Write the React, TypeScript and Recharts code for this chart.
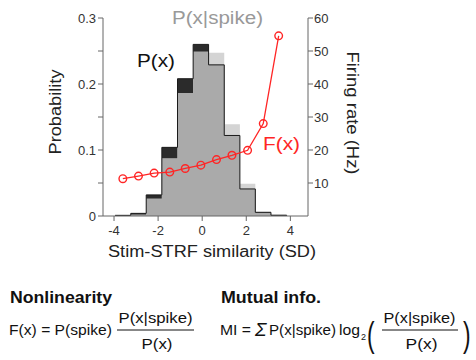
import { ComposedChart, Area, Line, XAxis, YAxis } from "recharts";

const FONT = '"Liberation Sans", Arial, Helvetica, sans-serif';

// histogram bins (SD units) and the two distributions
const binEdges = [-3.95, -3.24, -2.54, -1.83, -1.12, -0.41, 0.29, 1.0, 1.71, 2.41, 3.12, 3.83];
const pX = [0.001, 0.004, 0.032, 0.104, 0.208, 0.26, 0.229, 0.122, 0.041, 0.0055, 0.001];
const pXSpike = [0.0005, 0.002, 0.026, 0.087, 0.186, 0.249, 0.2475, 0.139, 0.049, 0.007, 0.003];

// nonlinearity F(x), one point per bin centre
const binCenters = [-3.6, -2.89, -2.18, -1.47, -0.77, -0.06, 0.65, 1.35, 2.06, 2.77, 3.47];
const firingRate = [11.3, 12.1, 13.0, 13.3, 14.4, 15.4, 17.1, 18.4, 19.9, 28.0, 54.6];

const xTicks = [-4, -2, 0, 2, 4];
const probTicks = [0, 0.05, 0.1, 0.15, 0.2, 0.25, 0.3];
const probTickLabels = ["0", "", "0.1", "", "0.2", "", "0.3"];
const rateTicks = [10, 20, 30, 40, 50, 60];

const histData = binEdges.map((x, i) => {
  const a = pX[i] ?? 0;
  const b = pXSpike[i] ?? 0;
  return { x, px: a, ps: b, both: Math.min(a, b) };
});
const rateData = binCenters.map((x, i) => ({ x, rate: firingRate[i] }));

const RED = "#ff2525";
const AXIS = "#666";
const INK = "#111";
const tickStyle = { fontSize: 13, fill: "#333", fontFamily: FONT };

function Overlay() {
  return (
    <svg
      width={476}
      height={360}
      style={{ position: "absolute", left: 0, top: 0, pointerEvents: "none" }}
      fontFamily={FONT}
    >
      {/* chart annotations */}
      <text x={172} y={24} fontSize={18} fill="#999" textLength={91} lengthAdjust="spacingAndGlyphs">
        P(x|spike)
      </text>
      <text x={137} y={67} fontSize={18} fill={INK} textLength={38} lengthAdjust="spacingAndGlyphs">
        P(x)
      </text>
      <text x={263} y={150} fontSize={18} fill={RED} textLength={37} lengthAdjust="spacingAndGlyphs">
        F(x)
      </text>

      {/* axis titles */}
      <text
        x={55}
        y={112}
        fontSize={16}
        fill="#222"
        textAnchor="middle"
        dominantBaseline="central"
        transform="rotate(-90 55 112)"
        textLength={85}
        lengthAdjust="spacingAndGlyphs"
      >
        Probability
      </text>
      <text
        x={352}
        y={113}
        fontSize={16}
        fill="#222"
        textAnchor="middle"
        dominantBaseline="central"
        transform="rotate(90 352 113)"
        textLength={123}
        lengthAdjust="spacingAndGlyphs"
      >
        Firing rate (Hz)
      </text>
      <text x={108} y={257} fontSize={16} fill="#222" textLength={208} lengthAdjust="spacingAndGlyphs">
        Stim-STRF similarity (SD)
      </text>

      {/* Nonlinearity */}
      <text x={10} y={303} fontSize={16} fontWeight="bold" fill={INK} textLength={102} lengthAdjust="spacingAndGlyphs">
        Nonlinearity
      </text>
      <text x={9} y={335} fontSize={14} fill={INK} textLength={103} lengthAdjust="spacingAndGlyphs">
        F(x) = P(spike)
      </text>
      <text x={155.5} y={323} fontSize={14} fill={INK} textAnchor="middle" textLength={74} lengthAdjust="spacingAndGlyphs">
        P(x|spike)
      </text>
      <line x1={117} x2={194} y1={330} y2={330} stroke={INK} strokeWidth={1} />
      <text x={157} y={349} fontSize={14} fill={INK} textAnchor="middle" textLength={31} lengthAdjust="spacingAndGlyphs">
        P(x)
      </text>

      {/* Mutual info */}
      <text x={221} y={303} fontSize={16} fontWeight="bold" fill={INK} textLength={100} lengthAdjust="spacingAndGlyphs">
        Mutual info.
      </text>
      <text x={220} y={335} fontSize={14} fill={INK} textLength={31} lengthAdjust="spacingAndGlyphs">
        MI =
      </text>
      <text x={255} y={336} fontSize={19} fontStyle="italic" fill={INK}>
        Σ
      </text>
      <text x={269} y={335} fontSize={14} fill={INK} textLength={67} lengthAdjust="spacingAndGlyphs">
        P(x|spike)
      </text>
      <text x={339} y={335} fontSize={14} fill={INK} textLength={21} lengthAdjust="spacingAndGlyphs">
        log
      </text>
      <text x={361} y={340} fontSize={9} fill={INK}>
        2
      </text>
      <text transform="translate(367 347) scale(0.65 1)" fontSize={35} fill={INK}>
        (
      </text>
      <text x={419.5} y={323} fontSize={14} fill={INK} textAnchor="middle" textLength={72} lengthAdjust="spacingAndGlyphs">
        P(x|spike)
      </text>
      <line x1={382} x2={458} y1={330} y2={330} stroke={INK} strokeWidth={1} />
      <text x={421.5} y={349} fontSize={14} fill={INK} textAnchor="middle" textLength={32} lengthAdjust="spacingAndGlyphs">
        P(x)
      </text>
      <text transform="translate(463 347) scale(0.65 1)" fontSize={35} fill={INK}>
        )
      </text>
    </svg>
  );
}

export default function App() {
  return (
    <div style={{ position: "absolute", left: 0, top: 0, width: 476, height: 360, background: "#fff", fontFamily: FONT }}>
      <ComposedChart
        width={476}
        height={260}
        data={histData}
        margin={{ top: 18, right: 128, bottom: 14, left: 43 }}
      >
        <XAxis
          type="number"
          dataKey="x"
          domain={[-4.5, 4.8]}
          ticks={xTicks}
          allowDataOverflow
          stroke={AXIS}
          tick={tickStyle}
          tickSize={5}
          tickMargin={5}
          height={30}
        />
        <YAxis
          yAxisId="left"
          domain={[0, 0.3]}
          ticks={probTicks}
          tickFormatter={(v: number) => probTickLabels[probTicks.indexOf(v)] ?? ""}
          stroke={AXIS}
          tick={tickStyle}
          tickSize={5}
          width={60}
        />
        <YAxis
          yAxisId="right"
          orientation="right"
          domain={[0, 60]}
          ticks={rateTicks}
          stroke={AXIS}
          tick={tickStyle}
          tickSize={5}
          tickMargin={1}
          width={40}
        />
        <Area
          yAxisId="left"
          type="stepAfter"
          dataKey="px"
          stroke="none"
          fill="#2b2b2b"
          fillOpacity={1}
          dot={false}
          activeDot={false}
          isAnimationActive={false}
        />
        <Area
          yAxisId="left"
          type="stepAfter"
          dataKey="ps"
          stroke="none"
          fill="#d4d4d4"
          fillOpacity={1}
          dot={false}
          activeDot={false}
          isAnimationActive={false}
        />
        <Area
          yAxisId="left"
          type="stepAfter"
          dataKey="both"
          stroke="none"
          fill="#aaaaaa"
          fillOpacity={1}
          dot={false}
          activeDot={false}
          isAnimationActive={false}
        />
        <Area
          yAxisId="left"
          type="stepAfter"
          dataKey="px"
          stroke="#1a1a1a"
          strokeWidth={1}
          fill="none"
          dot={false}
          activeDot={false}
          isAnimationActive={false}
        />
        <Line
          yAxisId="right"
          data={rateData}
          dataKey="rate"
          stroke={RED}
          strokeWidth={1.3}
          dot={{ r: 3.8, fill: "none", stroke: RED, strokeWidth: 1.4 }}
          activeDot={false}
          isAnimationActive={false}
        />
      </ComposedChart>
      <Overlay />
    </div>
  );
}
